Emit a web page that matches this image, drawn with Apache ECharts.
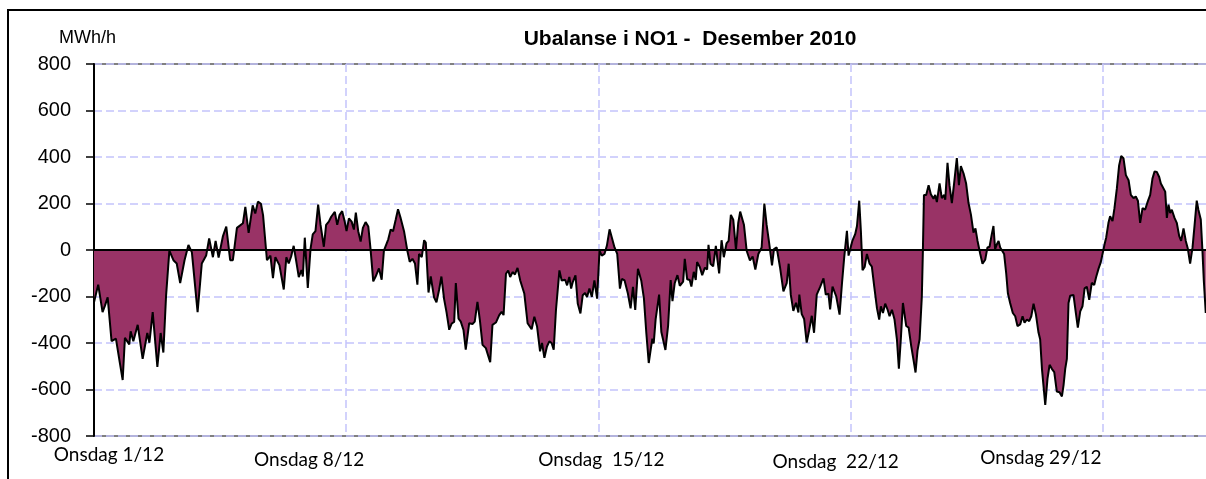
<!DOCTYPE html>
<html>
<head>
<meta charset="utf-8">
<script src="https://cdn.jsdelivr.net/npm/echarts@6/dist/echarts.min.js"></script>
<style>
html, body { margin: 0; padding: 0; background: #fff; overflow: hidden; }
#app { width: 1206px; height: 479px; }
</style>
</head>
<body>
<div id="app"></div>
<script>
// ubalanse NO1, desember 2010 (timer fra 1/12 kl 00, MWh/h)
const hours = [
  0, 2.8, 5.7, 7.3, 9.1, 11.7, 14.6, 17.3, 19.1, 20.6, 23.5, 24.4, 26.2, 29.1, 32.4, 35.5, 36.9, 39.1, 42.2, 44.4,
  46.2, 48, 50.2, 51.4, 52.9, 55.1, 57.4, 60.3, 62.9, 65.2, 69, 70.3, 71.8, 74.7, 76.7, 79.2, 81, 83, 85.9, 88.1,
  90.7, 92.5, 95.2, 99.2, 100.8, 103, 105.7, 107.4, 109.2, 111.2, 112.6, 115.2, 117.5, 119.2,
  120.8, 123.5, 126.4, 128.1, 129.7, 131.3, 133, 134.6, 136.4, 138.2, 139.1, 140.4, 142.4, 144.2, 145.7, 147.5,
  149.3, 150.9, 153.1, 154.6, 156.4, 158, 160.4, 162, 163.5, 165.3, 166.9, 168.2, 169.8, 171.6, 173.1, 174.4,
  176, 177.6, 179.1, 180.9, 182.7, 184.2, 186, 187.6, 189.8, 191.6, 193.1, 196, 197.6, 199.2, 200.9, 202.5,
  204.3, 206.5, 208.7, 210.3, 212.1, 213.8, 215.4, 216.5, 218.3, 219.9, 221, 222.8, 224.3, 226.5, 228.1, 229.9,
  231.4, 233.2, 234.8, 236.6, 238.3, 239.9, 241, 242.8,
  244.3, 246.1, 247.6, 249.9, 252.1, 253.6, 255.4, 257, 258.8, 261, 263.9, 265.4, 267.7, 269.9, 271.5, 272.8,
  274.4, 275.9, 277.2, 278.8, 280.4, 282.1, 283.9, 286.6, 288.8, 291.5, 293.3, 295.1, 297.1, 298.4, 300, 301.7,
  303.3, 304.8, 306.2, 307.7, 310, 311.5, 313.8, 315.1, 316.6, 317.8, 318.9, 320.7, 322.2, 324, 325.5, 327.1,
  328.4, 330, 331.6, 333.3, 335.1, 336.7, 338.2, 340, 341.6, 343.4, 344.9, 346.7, 348.5, 350.3, 351.6, 353.4,
  355.6, 357.4, 359, 360.5, 362.3, 364.5, 366.3, 367.9,
  369.5, 370.6, 371.9, 372.8, 374.1, 376.4, 377.9, 379, 380.6, 382.4, 384.1, 385.3, 386.8, 388.6, 390.2, 392.4,
  393.5, 395.1, 396.8, 397.9, 399.5, 400.8, 401.7, 403.5, 405.1, 406.9, 408.4, 409.3, 410.6, 412.4, 414.2, 415.3,
  416.4, 418, 419.5, 421.3, 422.7, 424.2, 425.8, 427.6, 429.1, 430.4, 432.9, 434.7, 436.9, 438.7, 440.5, 442.5,
  444.7, 446.5, 448, 449.8, 451.6, 452.9, 454.7, 456.9, 459.2, 461.4, 462.7, 464.1, 465.8, 467.6, 469.2, 469.8,
  471.4, 473, 474.7, 476.3, 478.1, 479.6, 481.4, 483.6, 485.9, 487.4, 489.2, 490.3, 491.9,
  494.4, 496.6, 498.2, 499.7, 501.5, 502.6, 503.7, 505.1, 507, 508.2, 509.7, 510.8, 511.9, 513.3, 514.8, 516.6,
  518.1, 519.7, 521.5, 523, 524.1, 525.5, 527, 528.6, 529.9, 531.5, 533.2, 534.8, 536.1, 537.4, 538.8, 539.7,
  541, 542.6, 544.3, 545.9, 547.2, 548.5, 549.9, 551.4, 552.1, 552.8, 554.3, 555.9, 557.4, 559.2, 560.3, 561.4,
  563.2, 564.7, 566.3, 567, 568.5, 569.8, 571.4, 573, 574.7, 576.1, 577.4, 579.2, 580.9, 582.5, 584.1, 585.8,
  587.1, 588.5, 590.3, 591.8, 593.6, 595.1, 596.5, 598, 599.1, 600.2, 601.4, 602.5, 603.6, 604.7, 606.2, 607.6,
  608.7, 610.2, 612, 613.6, 615.1,
  616.9, 618.5, 619.8, 621.4, 622.9, 624.3, 625.8, 627.4, 629.1, 630.2, 631.4, 633.6, 635.1, 636.5, 638, 639.6,
  641.3, 643.1, 644.7, 645.8, 646.9, 648, 649.1, 650.2, 652.4, 654, 655.3, 656.9, 658.4, 659.8, 661.3, 662.9,
  664.6, 666.2, 667.5, 669.1, 670.6, 672, 673.1, 674.2, 675.7, 676.8, 678.4, 679.7, 681.3, 682.8, 684.2, 685.7,
  687.3, 689.1, 690.6, 692.4, 693.9, 695.3, 696.8, 698.4, 700.1, 701.9, 703.5, 705, 706.4, 707.9, 709.5, 710.6,
  711.9, 713.5, 714.6, 715.7, 716.8, 717.9, 719.7, 721.2, 722.8, 724.1, 725.7, 727.2, 728.5, 730.1, 731.7, 733,
  734.5, 735.6, 737.2, 738.3, 739.2, 740.5
];
const imbalance = [
  -225, -149, -267, -239, -204, -392, -381, -489, -559, -378, -406, -350, -392, -322, -468, -357, -399, -267, -503, -357,
  -441, -197, -3, 4, -44, -58, -142, -44, 22, -10, -267, -260, -58, -24, 50, -31, 39, -33, 60, 101,
  -44, -44, 95, 115, 185, 74, 192, 157, 208, 199, 150, -44, -24, -121,
  -31, -65, -170, -31, -58, -28, 18, -44, -117, -86, -114, 53, -163, 4, 67, 81,
  195, 108, 14, 108, 122, 143, 164, 108, 150, 167, 125, 81, 136, 122, 88, 161,
  81, 36, 95, 120, 101, 4, -135, -114, -79, -128, -3, 46, 88, 81, 129, 175,
  136, 81, -3, -51, -38, -58, -149, -17, -31, 42, 32, -183, -114, -204, -225, -170,
  -114, -211, -267, -343, -316, -309, -142, -295,
  -308, -344, -429, -315, -318, -308, -223, -301, -408, -422, -483, -322, -312, -280, -266, -280,
  -102, -88, -116, -95, -105, -77, -131, -187, -315, -341, -287, -329, -436, -400, -464, -415,
  -393, -400, -429, -258, -88, -131, -128, -152, -116, -166, -138, -109, -230, -273, -195, -185,
  -202, -166, -202, -131, -209, -3, -24, -17, 18, 89, 54, 11, -17, -166, -124, -131,
  -187, -251, -159, -258, -81, -131, -209, -358,
  -486, -437, -381, -402, -297, -192, -353, -360, -430, -325, -129, -220, -143, -108, -154, -136,
  -38, -126, -129, -157, -94, -129, -52, -73, -108, -76, -84, 22, -59, -70, 18, -45,
  -101, 42, -31, 28, 39, 151, 130, 0, 116, 165, 109, -3, -45, -28, -84, -17,
  11, 200, 109, 25, -66, 4, 11, -73, -178, -143, -59, -192, -262, -227, -269, -192,
  -276, -297, -398, -346, -283, -356, -192, -160, -122, -192, -188, -255, -157,
  -200, -278, -144, -31, 82, -24, -17, 39, 68, 103, 212, 82, -87, -73, -17, -59,
  -71, -158, -250, -299, -242, -271, -231, -257, -285, -257, -299, -384, -511, -384, -228, -226,
  -327, -334, -412, -475, -527, -433, -384, -200, -3, 237, 237, 279, 240, 220, 237, 206,
  286, 223, 237, 216, 375, 279, 202, 293, 395, 279, 361, 329, 286, 202, 152, 75,
  93, 39, -17, -59, -42, 11, 14, 68, 103, 4, 25, 39, 11, 14, -17, -101,
  -186, -228, -271, -285, -327,
  -320, -285, -313, -299, -306, -285, -231, -278, -355, -384, -511, -666, -553, -494, -511, -525,
  -609, -612, -630, -581, -511, -468, -228, -197, -193, -271, -334, -264, -242, -165, -158, -214,
  -141, -151, -116, -80, -52, -10, 25, 54, 117, 145, 124, 180, 265, 364, 404, 395,
  322, 300, 237, 223, 230, 212, 117, 180, 173, 209, 237, 307, 338, 336, 314, 286,
  293, 251, 138, 195, 159, 173, 138, 117, 61, 39, 93, 39, 8, -59, 11, 103,
  212, 173, 131, -3, -130, -271
];
const weekLabels = ['Onsdag 1/12', 'Onsdag 8/12', 'Onsdag  15/12', 'Onsdag  22/12', 'Onsdag 29/12'];
const yTicks = { min: -800, max: 800, step: 200 };

// plasseringen av datolabelene er håndjustert i originalen
const labelShift = [
  [0, 0, 0, 30],
  [9, 74, 0, 0],
  [10, 0, 0, 6],
  [13, 30, 0, 0],
  [6, 124, 0, 0]
];
const rich = {};
labelShift.forEach((p, i) => {
  rich['w' + i] = {
    fontFamily: 'Lato',
    fontSize: 19,
    lineHeight: 20,
    color: '#000',
    padding: p
  };
});

const chart = echarts.init(document.getElementById('app'));
chart.setOption({
  backgroundColor: '#fff',
  animation: false,
  title: {
    text: 'Ubalanse i NO1 -  Desember 2010',
    left: 685,
    textAlign: 'center',
    top: 24,
    textStyle: {
      fontFamily: 'Liberation Sans',
      fontSize: 21,
      fontWeight: 'bold',
      color: '#000'
    }
  },
  // rammen rundt diagrammet (høyre og nedre kant er utenfor bildet)
  graphic: [{
    type: 'polyline',
    shape: { points: [[8, 600], [8, 10], [1400, 10]] },
    style: { fill: null, stroke: '#000', lineWidth: 2 },
    silent: true
  }],
  grid: {
    left: 94,
    top: 64,
    width: 1117,
    bottom: 43,
    outerBoundsMode: 'none',
    containLabel: false,
    show: true,
    borderColor: '#808080',
    borderWidth: 2,
    backgroundColor: 'transparent'
  },
  xAxis: {
    type: 'value',
    min: 0,
    max: 744,
    interval: 168,
    axisLine: { show: false, onZero: false },
    axisTick: { show: false },
    splitLine: {
      show: true,
      lineStyle: { color: '#c4c4fc', width: 1.5, type: [8, 4] }
    },
    axisLabel: {
      margin: 9,
      showMaxLabel: false,
      formatter: function (v) {
        const i = Math.round(v / 168);
        if (v % 168 !== 0 || !weekLabels[i]) return '';
        return '{w' + i + '|' + weekLabels[i] + '}';
      },
      rich: rich
    }
  },
  yAxis: {
    type: 'value',
    min: yTicks.min,
    max: yTicks.max,
    interval: yTicks.step,
    name: 'MWh/h',
    nameLocation: 'end',
    nameGap: 17,
    nameTextStyle: {
      fontFamily: 'Liberation Sans',
      fontSize: 18,
      color: '#000',
      align: 'center',
      padding: [0, 13, 0, 0]
    },
    axisLine: { show: true, lineStyle: { color: '#000', width: 2 } },
    axisTick: { show: true, length: 8, lineStyle: { color: '#000', width: 1.5 } },
    axisLabel: {
      margin: 23,
      fontFamily: 'Liberation Sans',
      fontSize: 20,
      color: '#000'
    },
    splitLine: {
      show: true,
      lineStyle: { color: '#c4c4fc', width: 1.5, type: [8, 4] }
    }
  },
  series: [{
    type: 'line',
    data: hours.map((h, i) => [h, imbalance[i]]),
    showSymbol: false,
    symbol: 'none',
    lineStyle: { color: '#000', width: 2 },
    areaStyle: { color: '#993366', opacity: 1 },
    markLine: {
      silent: true,
      symbol: 'none',
      label: { show: false },
      lineStyle: { color: '#000', width: 2, type: 'solid' },
      data: [{ yAxis: 0 }]
    }
  }]
});
</script>
</body>
</html>
